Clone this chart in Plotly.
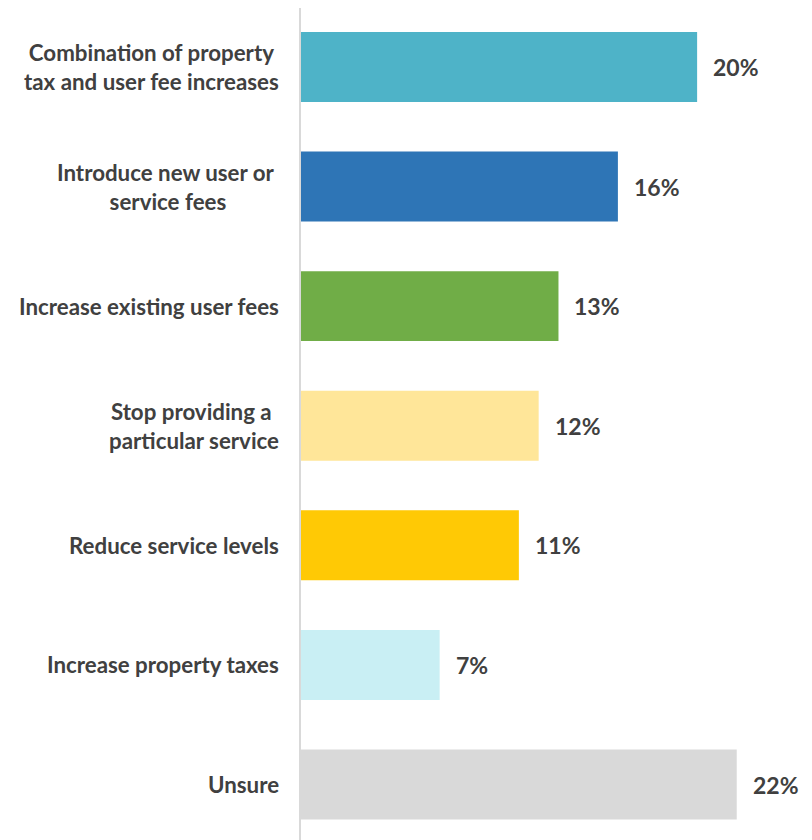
import plotly.graph_objects as go

# Survey responses: preferred way to address a budget shortfall
categories = [
    "Combination of property<br>tax and user fee increases",
    "Introduce new user or <br>service fees",
    "Increase existing user fees",
    "Stop providing a <br>particular service",
    "Reduce service levels",
    "Increase property taxes",
    "Unsure",
]
percentages = [20, 16, 13, 12, 11, 7, 22]
bar_colors = ["#4EB3C8", "#2E75B6", "#70AD47", "#FFE699", "#FFC905", "#C9EFF4", "#D9D9D9"]

TEXT_COLOR = "#404040"
FONT = "Lato, 'Open Sans', sans-serif"

positions = list(range(len(categories)))

fig = go.Figure(
    go.Bar(
        x=percentages,
        y=positions,
        orientation="h",
        marker=dict(color=bar_colors, line=dict(width=0)),
        width=0.585,
        hoverinfo="skip",
    )
)

annotations = []
for pos, label, value in zip(positions, categories, percentages):
    # category label, centred text block right-aligned next to the axis
    annotations.append(dict(
        x=0, y=pos, xref="x", yref="y",
        text=label, showarrow=False,
        xanchor="right", yanchor="middle", align="center",
        xshift=-20,
        font=dict(family=FONT, size=22.3, color=TEXT_COLOR, weight="bold"),
    ))
    # value label just past the end of the bar
    annotations.append(dict(
        x=value, y=pos, xref="x", yref="y",
        text=f"{value}%", showarrow=False,
        xanchor="left", yanchor="middle",
        xshift=14,
        font=dict(family=FONT, size=23, color=TEXT_COLOR, weight="bold"),
    ))

fig.update_layout(
    width=812,
    height=840,
    margin=dict(l=301, r=0, t=8, b=0),
    paper_bgcolor="white",
    plot_bgcolor="white",
    showlegend=False,
    annotations=annotations,
    xaxis=dict(
        range=[0, 25.8],
        showgrid=False, zeroline=False, showticklabels=False,
        showline=False, ticks="",
    ),
    yaxis=dict(
        range=[6.464, -0.493],
        showgrid=False, zeroline=False, showticklabels=False,
        showline=True, linecolor="#D9D9D9", linewidth=1.5,
        ticks="",
    ),
)

fig.write_html("out.html")
